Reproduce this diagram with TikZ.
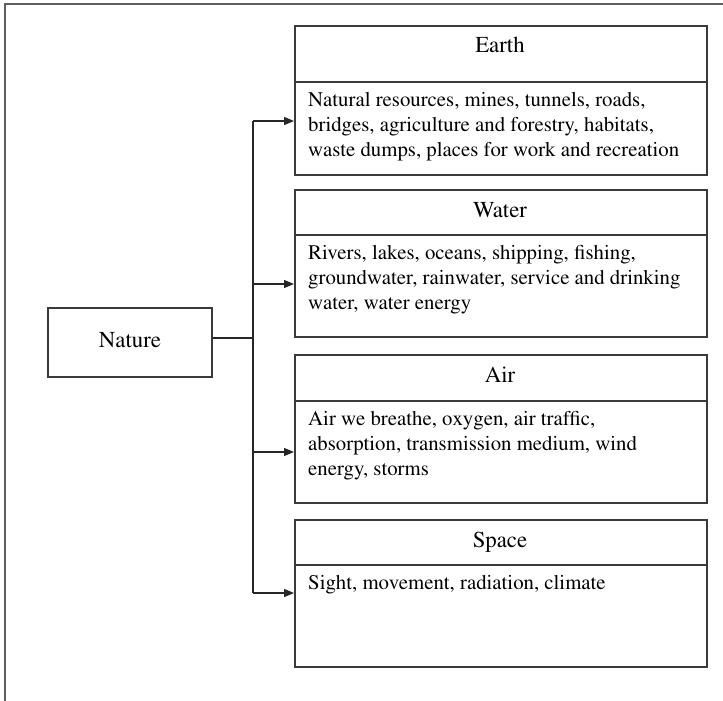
\documentclass[tikz,border=0pt]{standalone}
\usepackage[T1]{fontenc}
\renewcommand{\rmdefault}{ptm}
\usetikzlibrary{arrows.meta}
\definecolor{boxgray}{HTML}{3A3A3A}
\definecolor{framegray}{HTML}{5E5E5E}
\tikzset{
  boxpart/.style={draw=boxgray, line width=1.8pt, minimum width=412pt, inner sep=0pt, anchor=north west},
  ttl/.style={font=\fontsize{22.8}{27}\selectfont, anchor=base, inner sep=0pt},
  bodytext/.style={font=\fontsize{20.8}{25}\selectfont, align=left, anchor=north west, inner sep=0pt},
  conn/.style={line width=1.2pt, draw=black!85},
  arr/.style={conn, -{Triangle[length=10pt,width=8pt]}},
}
\begin{document}
\begin{tikzpicture}[x=1pt, y=-1pt]
\useasboundingbox (0,0) rectangle (723,701);

% frame edges
\draw[framegray, line width=2pt] (4.5,701) -- (4.5,4.5) -- (723,4.5);

% source box
\node[draw=boxgray, line width=1.8pt, minimum width=164pt, minimum height=69pt, inner sep=0pt] (nature) at (130,342.5) {};
\node[ttl] (natureT) at (130,347) {Nature};

% Earth
\node[boxpart, minimum height=56pt] (earthH) at (294,25) {};
\node[boxpart, minimum height=93pt] (earthB) at (294,81) {};
\node[ttl] (earthT) at (500,53) {Earth};
\node[bodytext] (earthX) at (308,92) {Natural resources, mines, tunnels, roads,\\bridges, agriculture and forestry, habitats,\\waste dumps, places for work and recreation};

% Water
\node[boxpart, minimum height=45pt] (waterH) at (294,189) {};
\node[boxpart, minimum height=102pt] (waterB) at (294,234) {};
\node[ttl] (waterT) at (500,217) {Water};
\node[bodytext] (waterX) at (308,245) {Rivers, lakes, oceans, shipping, fishing,\\groundwater, rainwater, service and drinking\\water, water energy};

% Air
\node[boxpart, minimum height=46pt] (airH) at (294,354) {};
\node[boxpart, minimum height=102pt] (airB) at (294,400) {};
\node[ttl] (airT) at (500,382) {Air};
\node[bodytext] (airX) at (308,411) {Air we breathe, oxygen, air traffic,\\absorption, transmission medium, wind\\energy, storms};

% Space
\node[boxpart, minimum height=45pt] (spaceH) at (294,519) {};
\node[boxpart, minimum height=102pt] (spaceB) at (294,564) {};
\node[ttl] (spaceT) at (500,547) {Space};
\node[bodytext] (spaceX) at (308,575) {Sight, movement, radiation, climate};

% connector trunk
\coordinate (join) at (253,338);
\coordinate (e1) at (253,121);
\coordinate (w1) at (253,284);
\coordinate (a1) at (253,452);
\coordinate (s1) at (253,593);

\draw[conn] (join -| nature.east) -- (join);
\draw[conn] (e1) -- (s1);
\draw[arr] (e1) -- (e1 -| earthB.west);
\draw[arr] (w1) -- (w1 -| waterB.west);
\draw[arr] (a1) -- (a1 -| airB.west);
\draw[arr] (s1) -- (s1 -| spaceB.west);
\end{tikzpicture}
\end{document}
